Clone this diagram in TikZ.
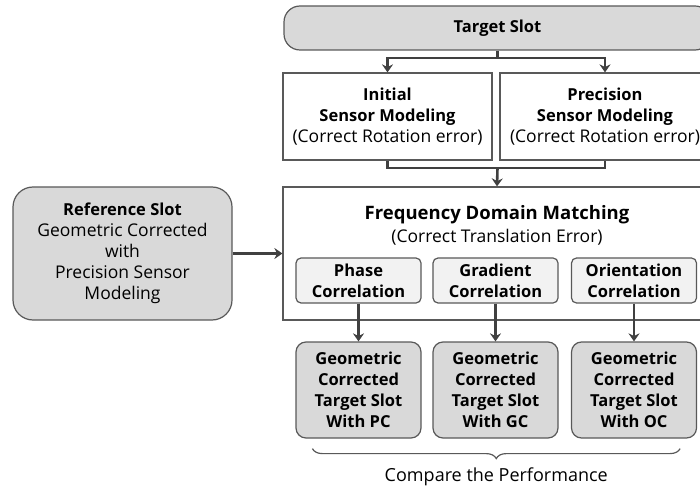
\documentclass[tikz,border=0pt]{standalone}
\usepackage{fontspec}
\setmainfont{Open Sans}
\usepackage{tikz}
\usetikzlibrary{arrows.meta,positioning,calc,decorations.pathreplacing}
\definecolor{BoxGray}{RGB}{217,217,217}
\definecolor{LightGray}{RGB}{242,242,242}
\definecolor{LineGray}{RGB}{64,64,64}
\definecolor{EdgeGray}{RGB}{89,89,89}
\newcommand{\hd}[1]{{\bfseries\fontsize{16.5}{21}\selectfont #1}}

\begin{document}
\begin{tikzpicture}[x=1pt,y=-1pt,
  slot/.style={draw=EdgeGray,fill=BoxGray,line width=1.2pt,rounded corners=16pt,
               align=center,font=\fontsize{17.5}{21}\selectfont},
  plain/.style={draw=EdgeGray,fill=white,line width=1.2pt,align=center,
                font=\fontsize{17.5}{21}\selectfont},
  corr/.style={draw=EdgeGray,fill=LightGray,line width=1.2pt,rounded corners=5pt,
               minimum width=125pt,minimum height=45pt,inner sep=0pt,align=center,
               font=\bfseries\fontsize{16.5}{21}\selectfont},
  result/.style={draw=EdgeGray,fill=BoxGray,line width=1.2pt,rounded corners=10pt,
                 minimum width=125pt,minimum height=96pt,inner sep=0pt,align=center,
                 font=\bfseries\fontsize{16.5}{21}\selectfont},
  link/.style={line width=2.6pt,LineGray},
  arr/.style={-{Stealth[length=8pt,width=11pt]},line width=2.6pt,LineGray}
]
\clip (0,0) rectangle (700,494);
\useasboundingbox (0,0) rectangle (700,494);
\node[slot,minimum width=427pt,minimum height=44pt] (target) at (497.5,28) {\hd{Target Slot}};
\node[plain,minimum width=209pt,minimum height=87pt] (init) at (387.5,116.5)
  {\hd{Initial}\\\hd{Sensor Modeling}\\(Correct Rotation error)};
\node[plain,minimum width=210pt,minimum height=87pt] (prec) at (605,116.5)
  {\hd{Precision}\\\hd{Sensor Modeling}\\(Correct Rotation error)};
\node[plain,minimum width=428pt,minimum height=133pt] (fdm) at (497,253.5) {};
\node[align=center,font=\fontsize{17.5}{23}\selectfont] (fdmtitle) at (497,225)
  {{\bfseries\fontsize{18.5}{23}\selectfont Frequency Domain Matching}\\(Correct Translation Error)};
\node[slot,rounded corners=20pt,minimum width=219pt,minimum height=133pt] (ref) at (122.5,253.5)
  {\hd{Reference Slot}\\Geometric Corrected\\with\\Precision Sensor\\Modeling};
\node[corr] (phase) at (358.5,280.5) {Phase\\Correlation};
\node[corr] (grad) at (495.5,280.5) {Gradient\\Correlation};
\node[corr] (orient) at (634,280.5) {Orientation\\Correlation};
\node[result] (pc) at (358.5,390) {Geometric\\Corrected\\Target Slot\\With PC};
\node[result] (gc) at (495.5,390) {Geometric\\Corrected\\Target Slot\\With GC};
\node[result] (oc) at (634,390) {Geometric\\Corrected\\Target Slot\\With OC};
\coordinate (split) at (497.5,58);
\coordinate (join) at (497.5,168);
% target to both modelings
\draw[link] (target.south) -- (split);
\draw[arr] (split) -| (init.north);
\draw[arr] (split) -| (prec.north);
% modelings to matching
\draw[link] (init.south) |- (join) -| (prec.south);
\draw[arr] (join) -- (fdm.north);
\draw[arr] (ref.east) -- (fdm.west);
\draw[arr] (phase) -- (pc);
\draw[arr] (grad) -- (gc);
\draw[arr] (orient) -- (oc);
\draw[decorate,decoration={brace,mirror,amplitude=10pt},line width=1.2pt,EdgeGray]
  ($(pc.south west)+(17,10)$) -- ($(oc.south east)+(-17,10)$)
  node[midway,below=15pt,text=black,font=\fontsize{18}{21}\selectfont] (perf) {Compare the Performance};
\end{tikzpicture}
\end{document}
